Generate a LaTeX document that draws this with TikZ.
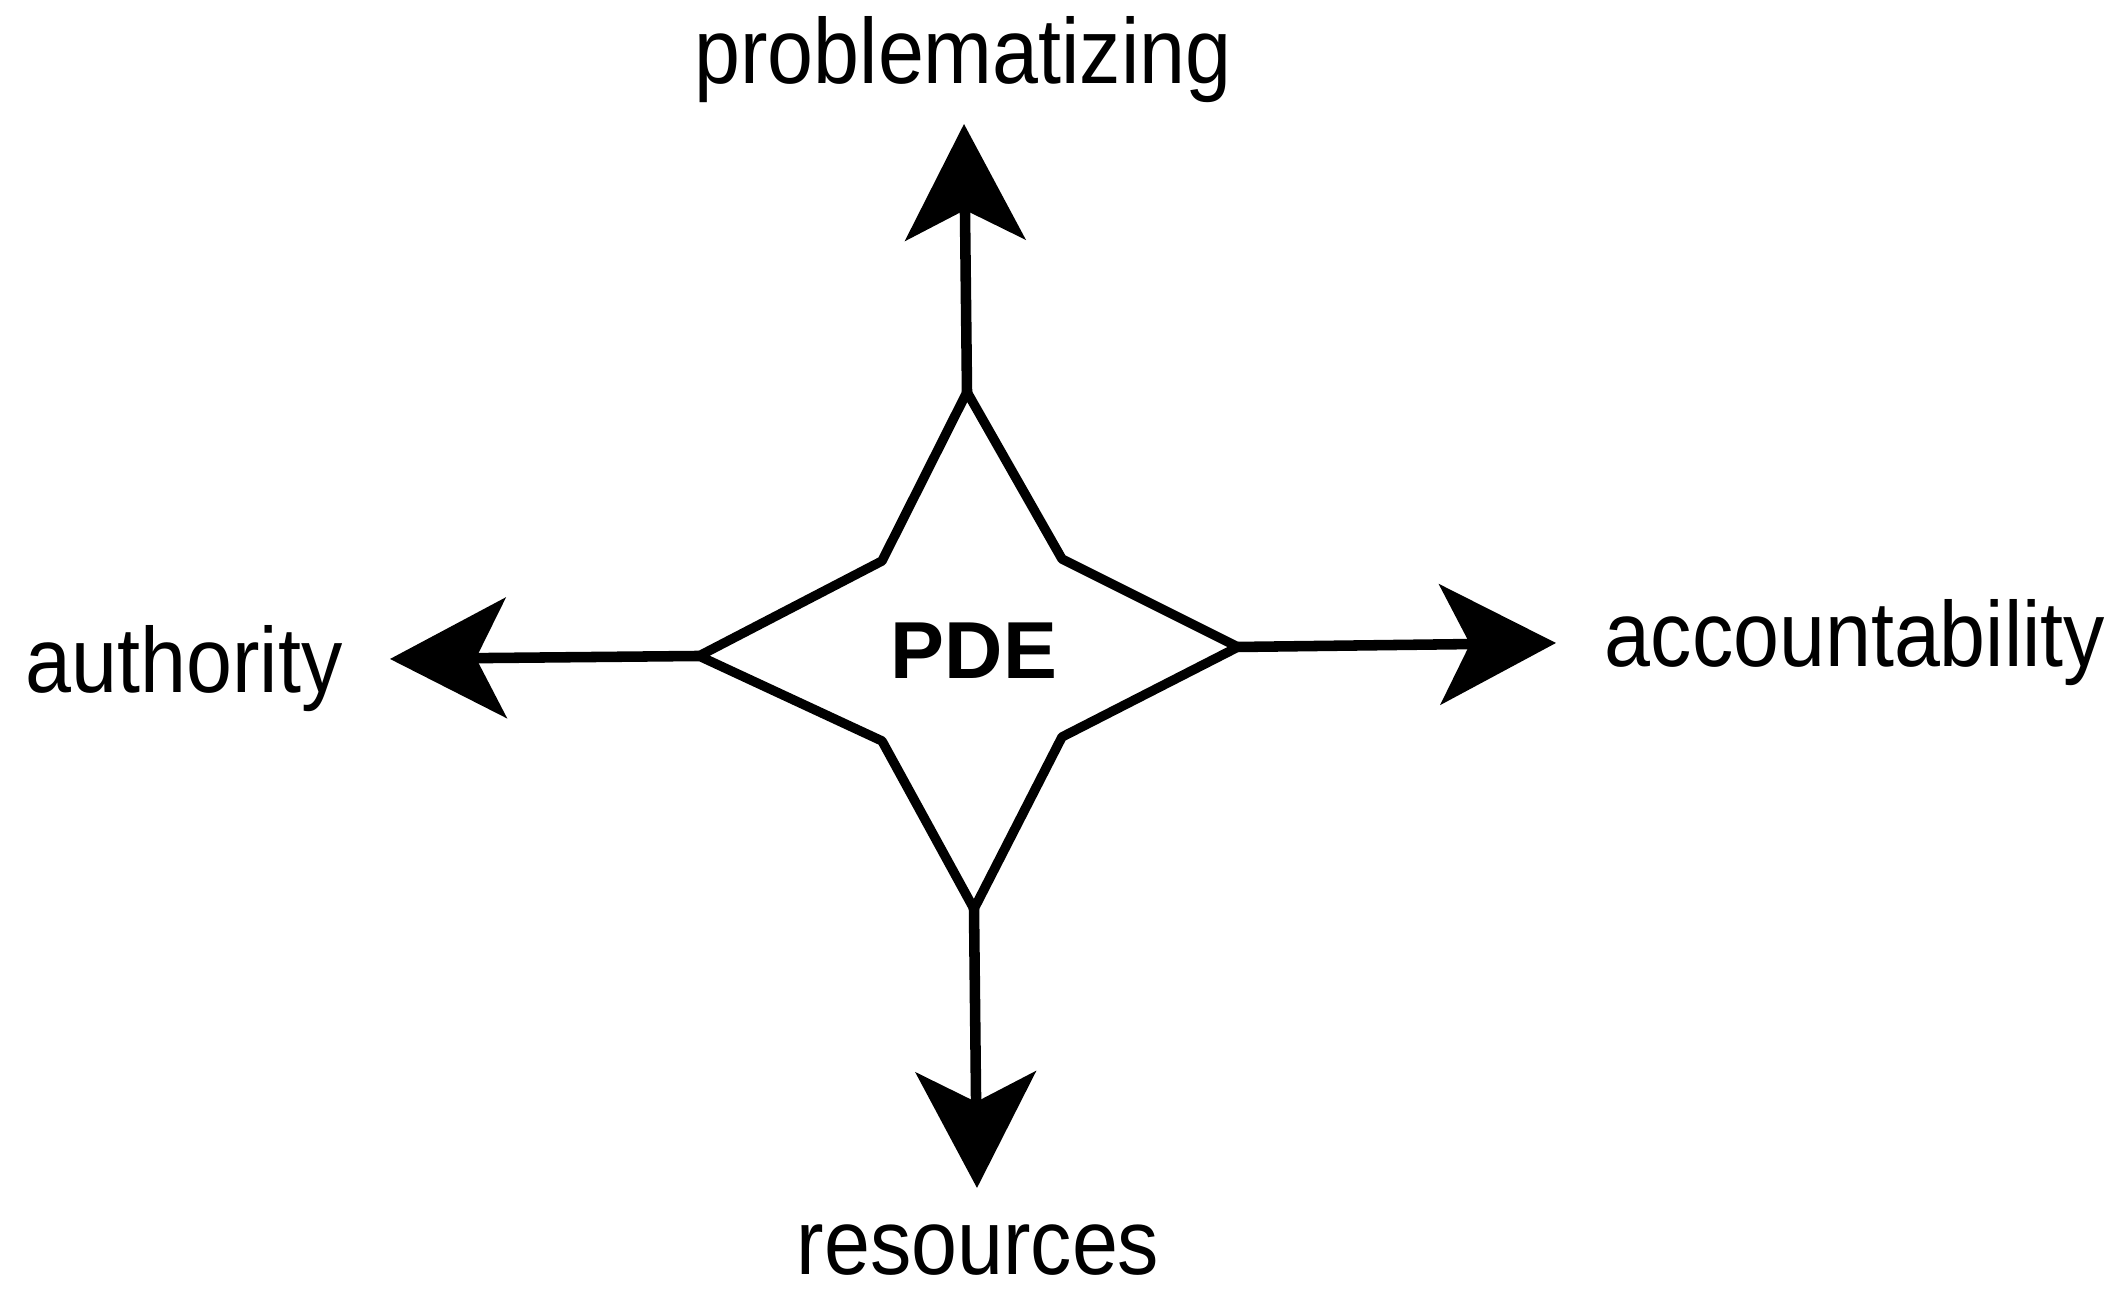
\documentclass[tikz,border=0pt]{standalone}
\usepackage{fontspec}
\setmainfont{Liberation Sans}
\usetikzlibrary{arrows.meta}
\tikzset{
  lbl/.style={anchor=base, inner sep=0pt, font=\fontsize{23.5}{27}\selectfont},
  starline/.style={line width=2.7pt, line join=round},
  spoke/.style={line width=3pt, -{Stealth[length=1.16cm, width=1.2cm, inset=0.3cm]}}
}
\newcommand{\tall}[1]{\scalebox{1}[1.12]{#1}}
\begin{document}
\begin{tikzpicture}
\useasboundingbox (0,0) rectangle (21.21,12.97);
% star points
\coordinate (T) at (9.67,9.05);
\coordinate (NW) at (8.82,7.36);
\coordinate (NE) at (10.62,7.38);
\coordinate (SW) at (8.82,5.56);
\coordinate (SE) at (10.62,5.60);
\coordinate (L) at (6.99,6.41);
\coordinate (R) at (12.38,6.50);
\coordinate (B) at (9.74,3.88);
% arrow tips
\coordinate (Ttip) at (9.64,11.73);
\coordinate (Btip) at (9.77,1.09);
\coordinate (Ltip) at (3.90,6.38);
\coordinate (Rtip) at (15.56,6.54);
% star
\draw[starline] (T) -- (NE) -- (R) -- (SE) -- (B) -- (SW) -- (L) -- (NW) -- cycle;
\node[lbl, font=\fontsize{23}{27}\selectfont\bfseries] (pde) at (9.74,6.18) {PDE};
% spokes
\draw[spoke] (T) -- (Ttip);
\draw[spoke] (B) -- (Btip);
\draw[spoke] (L) -- (Ltip);
\draw[spoke] (R) -- (Rtip);
% labels
\node[lbl] (prob) at (9.63,12.13) {\tall{problematizing}};
\node[lbl] (auth) at (1.84,6.04) {\tall{authority}};
\node[lbl] (acc) at (18.55,6.30) {\tall{accountability}};
\node[lbl] (res) at (9.78,0.22) {\tall{resources}};
\end{tikzpicture}
\end{document}
